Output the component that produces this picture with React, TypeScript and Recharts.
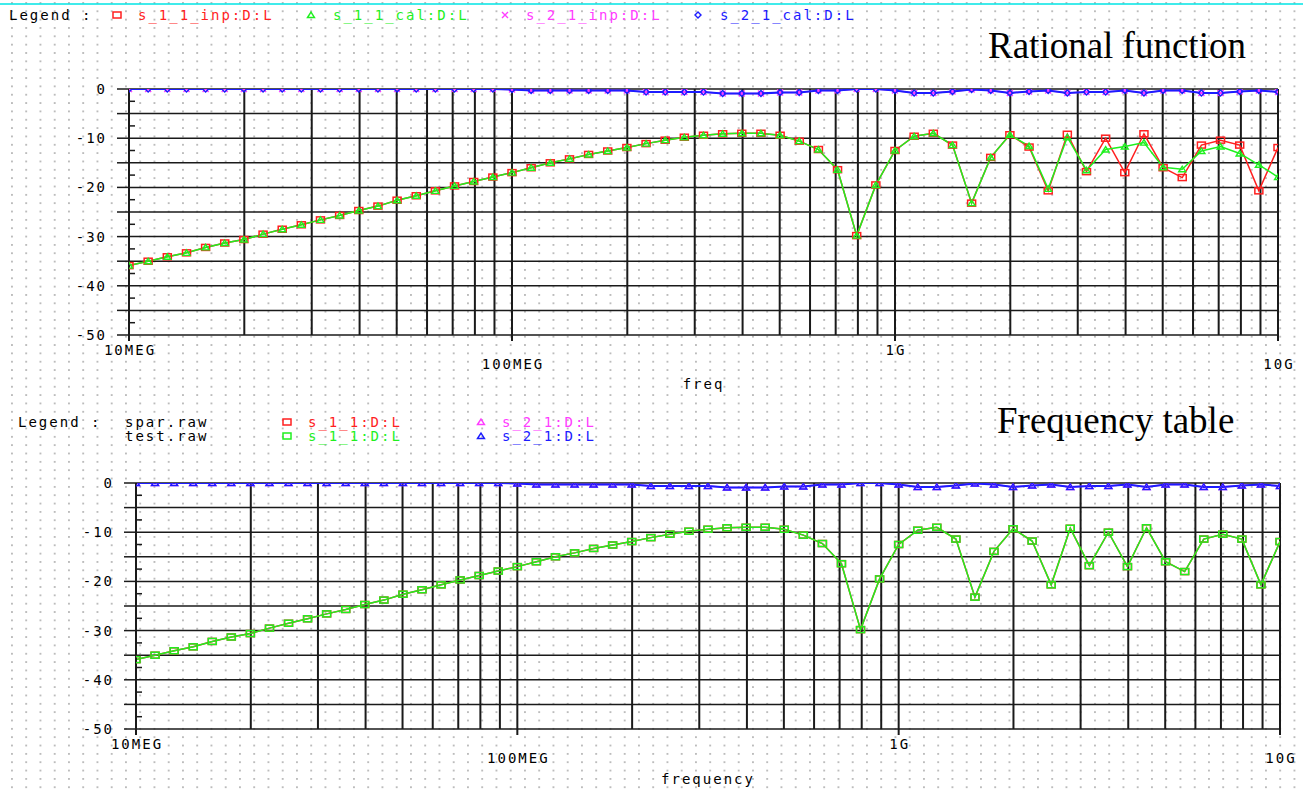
import { CartesianGrid, Line, LineChart, ReferenceLine, XAxis, YAxis } from 'recharts';

// sweep points in MHz, 20 per decade, 10MEG .. 10G
const freqMHz = [
  10, 11.22, 12.59, 14.13, 15.85, 17.78, 19.95, 22.39, 25.12, 28.18,
  31.62, 35.48, 39.81, 44.67, 50.12, 56.23, 63.1, 70.79, 79.43, 89.13,
  100, 112.2, 125.9, 141.3, 158.5, 177.8, 199.5, 223.9, 251.2, 281.8,
  316.2, 354.8, 398.1, 446.7, 501.2, 562.3, 631, 707.9, 794.3, 891.3,
  1000, 1122, 1259, 1413, 1585, 1778, 1995, 2239, 2512, 2818,
  3162, 3548, 3981, 4467, 5012, 5623, 6310, 7079, 7943, 8913,
  10000,
];

// S11 in dB, measured input (spar.raw)
const s11Inp = [
  -35.9, -35.0, -34.1, -33.3, -32.2, -31.3, -30.6, -29.5, -28.5, -27.6,
  -26.6, -25.7, -24.7, -23.8, -22.6, -21.7, -20.7, -19.7, -18.8, -17.9,
  -17.0, -16.0, -15.0, -14.2, -13.3, -12.6, -11.9, -11.1, -10.4, -9.8,
  -9.4, -9.1, -9.0, -9.0, -9.4, -10.6, -12.3, -16.4, -29.8, -19.5,
  -12.5, -9.6, -9.0, -11.4, -23.2, -13.9, -9.3, -11.8, -20.7, -9.2,
  -16.8, -10.0, -17.0, -9.1, -16.0, -18.0, -11.4, -10.4, -11.4, -20.7,
  -11.9,
];

// S11 in dB, rational function fit
const s11Cal = [
  -35.9, -35.0, -34.1, -33.3, -32.2, -31.3, -30.6, -29.5, -28.5, -27.6,
  -26.6, -25.7, -24.7, -23.8, -22.6, -21.7, -20.7, -19.7, -18.8, -17.9,
  -17.0, -16.0, -15.0, -14.2, -13.3, -12.6, -11.9, -11.1, -10.4, -9.8,
  -9.4, -9.1, -9.0, -9.0, -9.4, -10.6, -12.3, -16.4, -29.8, -19.5,
  -12.5, -9.6, -9.0, -11.4, -23.2, -13.9, -9.3, -11.6, -20.3, -9.8,
  -16.5, -12.3, -11.7, -10.9, -15.9, -16.3, -12.6, -11.7, -13.1, -15.4,
  -17.9,
];

// S21 in dB (input and fit sit on top of each other)
const s21Inp = [
  0, 0, 0, 0, 0, 0, 0, 0, 0, 0,
  0, 0, 0, 0, 0, 0, 0, 0, 0, 0,
  -0.1, -0.3, -0.3, -0.3, -0.3, -0.3, -0.3, -0.6, -0.6, -0.6,
  -0.6, -0.9, -0.9, -0.9, -0.7, -0.7, -0.3, -0.3, 0, 0,
  -0.3, -0.8, -0.8, -0.5, -0.1, -0.3, -0.8, -0.5, -0.3, -0.8,
  -0.6, -0.6, -0.3, -0.8, -0.3, -0.3, -0.8, -0.8, -0.5, -0.3,
  -0.6,
];
const s21Cal = s21Inp;

// frequency table run (test.raw) reproduces spar.raw
const testS11 = s11Inp;
const testS21 = s21Inp;

const freqGrid = [
  10, 20, 30, 40, 50, 60, 70, 80, 90,
  100, 200, 300, 400, 500, 600, 700, 800, 900,
  1000, 2000, 3000, 4000, 5000, 6000, 7000, 8000, 9000,
  10000,
];
const decades = [10, 100, 1000, 10000];
const decadeLabels = ['10MEG', '100MEG', '1G', '10G'];

const dbTicks = [
  -50, -47.5, -45, -42.5, -40, -37.5, -35, -32.5, -30, -27.5, -25,
  -22.5, -20, -17.5, -15, -12.5, -10, -7.5, -5, -2.5, 0,
];
const dbGrid = [-45, -40, -35, -30, -25, -20, -15, -10, -5, 0];

const RED = '#ff1f1f';
const GREEN = '#1ff01f';
const MAGENTA = '#ff3cff';
const BLUE = '#1c1cff';
const INK = '#1a1a1a';
const MONO = '"DejaVu Sans Mono", "Liberation Mono", monospace';
const SERIF = '"Liberation Serif", "Times New Roman", serif';

const topRows = freqMHz.map((f, i) => ({
  f,
  s11Inp: s11Inp[i],
  s11Cal: s11Cal[i],
  s21Inp: s21Inp[i],
  s21Cal: s21Cal[i],
}));

const bottomRows = freqMHz.map((f, i) => ({
  f,
  sparS11: s11Inp[i],
  testS11: testS11[i],
  sparS21: s21Inp[i],
  testS21: testS21[i],
}));

const monoText = {
  fontFamily: MONO,
  fontSize: 14,
  letterSpacing: 2,
};

// marker shapes
function Square({ x, y, color }: { x: number; y: number; color: string }) {
  return <rect x={x - 4} y={y - 3} width={8} height={6} fill="none" stroke={color} strokeWidth={1.5} />;
}

function Triangle({ x, y, color }: { x: number; y: number; color: string }) {
  return (
    <path
      d={`M${x - 3.5},${y + 2.5} L${x},${y - 3} L${x + 3.5},${y + 2.5} Z`}
      fill="none"
      stroke={color}
      strokeWidth={1.4}
    />
  );
}

function Cross({ x, y, color }: { x: number; y: number; color: string }) {
  return (
    <path
      d={`M${x - 3},${y - 3} L${x + 3},${y + 3} M${x - 3},${y + 3} L${x + 3},${y - 3}`}
      stroke={color}
      strokeWidth={1.4}
    />
  );
}

function Diamond({ x, y, color }: { x: number; y: number; color: string }) {
  return (
    <path
      d={`M${x},${y - 3} L${x + 3},${y} L${x},${y + 3} L${x - 3},${y} Z`}
      fill="none"
      stroke={color}
      strokeWidth={1.4}
    />
  );
}

type Shape = typeof Square;

function dotOf(Marker: Shape, color: string, tag: string) {
  return (p: any) => {
    const k = `${tag}-${p.index}`;
    if (p.cx == null || p.cy == null) return <g key={k} />;
    return (
      <g key={k}>
        <Marker x={p.cx} y={p.cy} color={color} />
      </g>
    );
  };
}

function LeftTick(props: any) {
  const { x, y, payload } = props;
  const v = payload.value as number;
  if (v % 5 !== 0) {
    return <line x1={x} x2={x + 6} y1={y} y2={y} stroke={INK} strokeWidth={1.5} />;
  }
  return (
    <g>
      <line x1={x - 12} x2={x} y1={y} y2={y} stroke={INK} strokeWidth={1.5} />
      {v % 10 === 0 && (
        <text x={x - 22} y={y} textAnchor="end" dominantBaseline="central" fill="#000" style={monoText}>
          {String(v)}
        </text>
      )}
    </g>
  );
}

function RightTick(props: any) {
  const { x, y, payload } = props;
  const v = payload.value as number;
  if (v % 5 === 0) return <g />;
  return <line x1={x - 6} x2={x} y1={y} y2={y} stroke={INK} strokeWidth={1.5} />;
}

function FreqTick(props: any) {
  const { x, y, payload } = props;
  const idx = decades.indexOf(payload.value);
  if (idx < 0) return <g />;
  const dy = idx % 2 === 0 ? 15 : 29;
  return (
    <g>
      <line x1={x} x2={x} y1={y} y2={y + 6} stroke={INK} strokeWidth={2} />
      <text x={x + 1} y={y + dy} textAnchor="middle" dominantBaseline="central" fill="#000" style={monoText}>
        {decadeLabels[idx]}
      </text>
    </g>
  );
}

interface PanelProps {
  rows: any[];
  top: number;
  height: number;
  plotTop: number;
  plotLeft: number;
  plotRight: number;
  axisTitle: string;
  titleOffset: number;
  children: any;
}

function Panel({ rows, top, height, plotTop, plotLeft, plotRight, axisTitle, titleOffset, children }: PanelProps) {
  return (
    <div style={{ position: 'absolute', left: 0, top }}>
      <LineChart
        width={1303}
        height={height}
        data={rows}
        margin={{ top: plotTop, right: 0, bottom: 0, left: 0 }}
      >
        <CartesianGrid horizontal={false} vertical stroke={INK} strokeWidth={2} />
        {dbGrid.map((v) => (
          <ReferenceLine key={v} y={v} stroke={INK} strokeWidth={1.5} />
        ))}
        <XAxis
          dataKey="f"
          type="number"
          scale="log"
          domain={[10, 10000]}
          ticks={freqGrid}
          interval={0}
          allowDataOverflow
          height={60}
          tickSize={0}
          tickMargin={0}
          tick={<FreqTick />}
          axisLine={{ stroke: INK, strokeWidth: 1.5 }}
          label={{
            value: axisTitle,
            position: 'insideBottom',
            offset: titleOffset,
            fill: '#000',
            style: monoText,
          }}
        />
        <YAxis
          type="number"
          domain={[-50, 0]}
          ticks={dbTicks}
          interval={0}
          allowDataOverflow
          width={plotLeft}
          tickSize={0}
          tickMargin={0}
          tick={<LeftTick />}
          axisLine={{ stroke: INK, strokeWidth: 2 }}
        />
        <YAxis
          yAxisId="right"
          orientation="right"
          type="number"
          domain={[-50, 0]}
          ticks={dbTicks}
          interval={0}
          width={1303 - plotRight}
          tickSize={0}
          tickMargin={0}
          tick={<RightTick />}
          axisLine={false}
        />
        {children}
      </LineChart>
    </div>
  );
}

function LegendText({ x, y, color, children }: { x: number; y: number; color: string; children: string }) {
  return (
    <text x={x} y={y} dominantBaseline="central" fill={color} style={monoText}>
      {children}
    </text>
  );
}

function Annotations() {
  return (
    <svg width={1303} height={789} style={{ position: 'absolute', left: 0, top: 0 }}>
      <line x1={0} x2={1303} y1={4} y2={4} stroke="#00e4e4" strokeWidth={1.5} />

      <LegendText x={9} y={15} color="#000">Legend :</LegendText>
      <Square x={117} y={15} color={RED} />
      <LegendText x={138} y={15} color={RED}>s_1_1_inp:D:L</LegendText>
      <Triangle x={311} y={15} color={GREEN} />
      <LegendText x={333} y={15} color={GREEN}>s_1_1_cal:D:L</LegendText>
      <Cross x={505} y={15} color={MAGENTA} />
      <LegendText x={526} y={15} color={MAGENTA}>s_2_1_inp:D:L</LegendText>
      <Diamond x={698} y={15} color={BLUE} />
      <LegendText x={720} y={15} color={BLUE}>s_2_1_cal:D:L</LegendText>

      <text x={988} y={58} fill="#000" style={{ fontFamily: SERIF, fontSize: 37 }}>
        Rational function
      </text>

      <LegendText x={18} y={422} color="#000">Legend :</LegendText>
      <LegendText x={125} y={422} color="#000">spar.raw</LegendText>
      <LegendText x={125} y={436} color="#000">test.raw</LegendText>
      <Square x={287} y={422} color={RED} />
      <LegendText x={308} y={422} color={RED}>s_1_1:D:L</LegendText>
      <Square x={287} y={436} color={GREEN} />
      <LegendText x={308} y={436} color={GREEN}>s_1_1:D:L</LegendText>
      <Triangle x={481} y={422} color={MAGENTA} />
      <LegendText x={502} y={422} color={MAGENTA}>s_2_1:D:L</LegendText>
      <Triangle x={481} y={436} color={BLUE} />
      <LegendText x={502} y={436} color={BLUE}>s_2_1:D:L</LegendText>

      <text x={997} y={433} fill="#000" style={{ fontFamily: SERIF, fontSize: 37 }}>
        Frequency table
      </text>
    </svg>
  );
}

export default function App() {
  return (
    <div
      style={{
        position: 'absolute',
        left: 0,
        top: 0,
        width: 1303,
        height: 789,
        overflow: 'hidden',
        backgroundColor: '#fff',
        backgroundImage: 'radial-gradient(circle at 1px 1px, #bcbcbc 0.8px, transparent 1.3px)',
        backgroundSize: '14.25px 8.35px',
        backgroundPosition: '11px 2px',
      }}
    >
      <Annotations />

      <Panel rows={topRows} top={0} height={395} plotTop={89} plotLeft={129} plotRight={1278} axisTitle="freq" titleOffset={6}>
        <Line
          dataKey="s11Inp"
          type="linear"
          stroke={RED}
          strokeWidth={1.5}
          dot={dotOf(Square, RED, 'a')}
          activeDot={false}
          isAnimationActive={false}
        />
        <Line
          dataKey="s11Cal"
          type="linear"
          stroke={GREEN}
          strokeWidth={1.5}
          dot={dotOf(Triangle, GREEN, 'b')}
          activeDot={false}
          isAnimationActive={false}
        />
        <Line
          dataKey="s21Inp"
          type="linear"
          stroke={MAGENTA}
          strokeWidth={1.5}
          dot={dotOf(Cross, MAGENTA, 'c')}
          activeDot={false}
          isAnimationActive={false}
        />
        <Line
          dataKey="s21Cal"
          type="linear"
          stroke={BLUE}
          strokeWidth={2}
          dot={dotOf(Diamond, BLUE, 'd')}
          activeDot={false}
          isAnimationActive={false}
        />
      </Panel>

      <Panel rows={bottomRows} top={400} height={389} plotTop={83} plotLeft={136} plotRight={1280} axisTitle="frequency" titleOffset={5}>
        <Line
          dataKey="sparS11"
          type="linear"
          stroke={RED}
          strokeWidth={1.5}
          dot={dotOf(Square, RED, 'e')}
          activeDot={false}
          isAnimationActive={false}
        />
        <Line
          dataKey="testS11"
          type="linear"
          stroke={GREEN}
          strokeWidth={1.5}
          dot={dotOf(Square, GREEN, 'f')}
          activeDot={false}
          isAnimationActive={false}
        />
        <Line
          dataKey="sparS21"
          type="linear"
          stroke={MAGENTA}
          strokeWidth={1.5}
          dot={dotOf(Triangle, MAGENTA, 'g')}
          activeDot={false}
          isAnimationActive={false}
        />
        <Line
          dataKey="testS21"
          type="linear"
          stroke={BLUE}
          strokeWidth={2}
          dot={dotOf(Triangle, BLUE, 'h')}
          activeDot={false}
          isAnimationActive={false}
        />
      </Panel>
    </div>
  );
}
